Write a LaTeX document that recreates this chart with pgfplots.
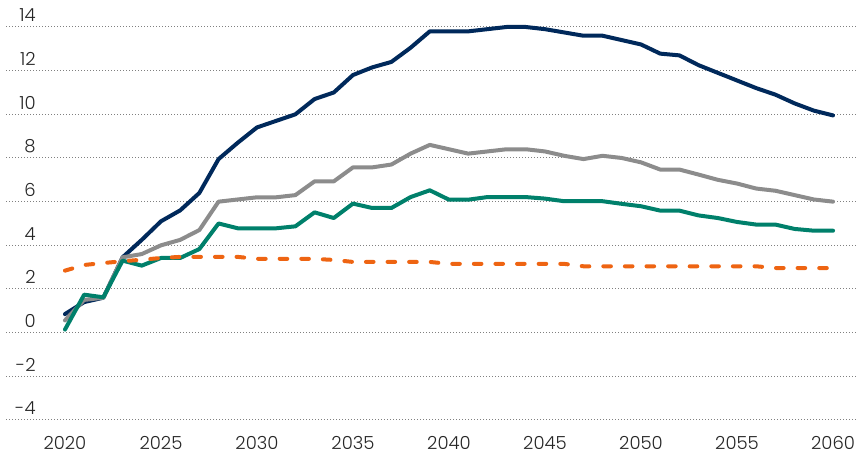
\documentclass[border=0pt]{standalone}
\usepackage{pgfplots}
\usepackage{pgfplotstable}
\pgfplotsset{compat=1.18}
\usepackage{fontspec}
\setmainfont{Poppins}[UprightFont=* Light]
\definecolor{cnavy}{HTML}{00295B}
\definecolor{cgray}{HTML}{8C8C8C}
\definecolor{cgreen}{HTML}{00806B}
\definecolor{corange}{HTML}{EE6412}
\definecolor{cgrid}{HTML}{808080}

\pgfplotstableread{
year navy gray green orange
2020 0.85 0.56 0.14 2.84
2021 1.40 1.50 1.74 3.10
2022 1.60 1.60 1.62 3.19
2023 3.45 3.45 3.30 3.27
2024 4.25 3.60 3.07 3.34
2025 5.10 4.00 3.42 3.42
2026 5.60 4.25 3.42 3.47
2027 6.40 4.70 3.83 3.47
2028 7.95 6.00 5.00 3.47
2029 8.70 6.10 4.78 3.47
2030 9.40 6.20 4.78 3.38
2031 9.70 6.20 4.78 3.38
2032 10.00 6.30 4.87 3.38
2033 10.70 6.93 5.51 3.38
2034 11.00 6.93 5.25 3.33
2035 11.80 7.57 5.91 3.24
2036 12.15 7.57 5.71 3.24
2037 12.40 7.70 5.71 3.24
2038 13.05 8.20 6.21 3.24
2039 13.80 8.60 6.52 3.24
2040 13.80 8.40 6.09 3.15
2041 13.80 8.20 6.09 3.15
2042 13.90 8.30 6.21 3.15
2043 14.00 8.40 6.21 3.15
2044 14.00 8.40 6.21 3.15
2045 13.90 8.30 6.14 3.15
2046 13.75 8.10 6.02 3.15
2047 13.60 7.95 6.02 3.04
2048 13.60 8.10 6.02 3.04
2049 13.40 8.00 5.90 3.04
2050 13.20 7.80 5.79 3.04
2051 12.78 7.47 5.59 3.04
2052 12.70 7.47 5.59 3.04
2053 12.25 7.24 5.37 3.04
2054 11.90 7.00 5.25 3.04
2055 11.55 6.83 5.07 3.04
2056 11.20 6.60 4.95 3.04
2057 10.90 6.50 4.95 2.96
2058 10.50 6.30 4.75 2.96
2059 10.17 6.10 4.67 2.96
2060 9.95 6.00 4.67 2.96
}\datatable

\begin{document}
\begin{tikzpicture}
\begin{axis}[
  scale only axis,
  width=426pt, height=196.5pt,
  xmin=2016.93, xmax=2061.3,
  ymin=-4, ymax=14,
  axis line style={draw=none},
  major tick length=0pt,
  xtick={2020,2025,...,2060},
  xticklabels={2020,2025,2030,2035,2040,2045,2050,2055,2060},
  ytick={-4,-2,2,4,6,8,10,12,14},
  yticklabels={-4,-2,2,4,6,8,10,12,14},
  extra y ticks={0},
  extra y tick labels={0},
  extra y tick style={grid style={solid, draw=cgrid, line width=0.8pt}},
  ymajorgrids,
  major grid style={draw=cgrid, line width=0.5pt, dash pattern=on 0.5pt off 1pt},
  tick label style={font=\fontsize{9}{10}\selectfont, text=black!85, inner sep=0pt},
  yticklabel style={anchor=base east, xshift=15pt, yshift=2.5pt},
  xticklabel style={anchor=base, yshift=-15pt},
  clip=false,
]
\addplot[cnavy, line width=2pt, line join=round, line cap=round] table[x=year, y=navy] {\datatable};
\addplot[cgray, line width=2pt, line join=round, line cap=round] table[x=year, y=gray] {\datatable};
\addplot[cgreen, line width=2pt, line join=round, line cap=round] table[x=year, y=green] {\datatable};
\addplot[corange, line width=2pt, line join=round, line cap=round, dash pattern=on 3.8pt off 7pt] table[x=year, y=orange] {\datatable};
\end{axis}
\pgfresetboundingbox
\path ([shift={(-3pt,-17pt)}]current axis.south west) rectangle ([shift={(0pt,13.5pt)}]current axis.north east);
\end{tikzpicture}
\end{document}
